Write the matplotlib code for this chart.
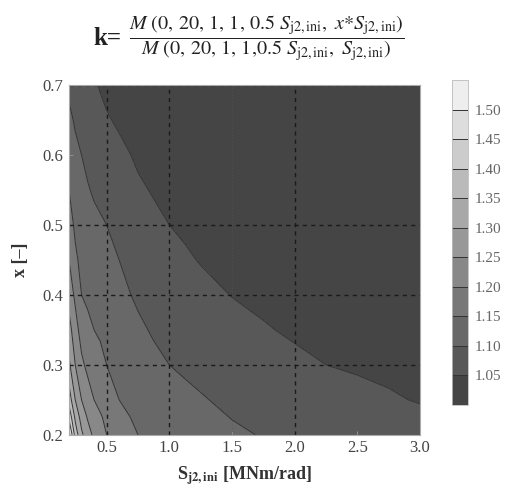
import matplotlib
matplotlib.use('Agg')
import matplotlib.pyplot as plt
import numpy as np

# stiffness S_j2,ini [MNm/rad] (grid columns) and reduction factor x [-] (grid rows)
s_vals = [0.2, 0.25, 0.3, 0.35, 0.4, 0.45, 0.5, 0.6, 0.75, 0.875,
          1.0, 1.125, 1.25, 1.5, 1.75, 2.0, 2.25, 2.5, 2.75, 3.0]
x_vals = [0.2, 0.225, 0.25, 0.3, 0.35, 0.4, 0.45, 0.5, 0.55, 0.6, 0.65, 0.7]

# k, one row per x value
k_x0200 = [1.52, 1.38, 1.31, 1.27, 1.24, 1.22, 1.20, 1.18, 1.15, 1.139,
           1.13, 1.122, 1.115, 1.106, 1.098, 1.092, 1.086, 1.08, 1.075, 1.07]
k_x0225 = [1.44, 1.34, 1.28, 1.245, 1.22, 1.205, 1.19, 1.165, 1.14, 1.13,
           1.1225, 1.116, 1.11, 1.099, 1.09, 1.083, 1.077, 1.071, 1.066, 1.06]
k_x0250 = [1.38, 1.30, 1.25, 1.222, 1.20, 1.187, 1.175, 1.15, 1.136, 1.124,
           1.115, 1.109, 1.103, 1.092, 1.082, 1.075, 1.068, 1.062, 1.055, 1.047]
k_x0300 = [1.31, 1.25, 1.21, 1.188, 1.17, 1.16, 1.15, 1.14, 1.12, 1.109,
           1.10, 1.094, 1.089, 1.077, 1.066, 1.058, 1.05, 1.045, 1.04, 1.035]
k_x0350 = [1.27, 1.22, 1.18, 1.163, 1.15, 1.145, 1.14, 1.125, 1.107, 1.096,
           1.0875, 1.081, 1.075, 1.063, 1.053, 1.045, 1.039, 1.035, 1.031, 1.027]
k_x0400 = [1.23, 1.19, 1.15, 1.14, 1.13, 1.125, 1.12, 1.11, 1.094, 1.083,
           1.075, 1.068, 1.061, 1.049, 1.042, 1.036, 1.031, 1.027, 1.024, 1.021]
k_x0450 = [1.20, 1.16, 1.136, 1.127, 1.12, 1.115, 1.11, 1.10, 1.081, 1.071,
           1.062, 1.055, 1.048, 1.038, 1.033, 1.028, 1.024, 1.021, 1.018, 1.016]
k_x0500 = [1.175, 1.14, 1.12, 1.115, 1.11, 1.105, 1.10, 1.09, 1.07, 1.059,
           1.05, 1.044, 1.038, 1.029, 1.025, 1.022, 1.019, 1.016, 1.014, 1.012]
k_x0550 = [1.15, 1.125, 1.11, 1.103, 1.095, 1.09, 1.085, 1.074, 1.056, 1.047,
           1.039, 1.033, 1.028, 1.022, 1.019, 1.016, 1.014, 1.012, 1.01, 1.009]
k_x0600 = [1.13, 1.11, 1.10, 1.09, 1.08, 1.075, 1.07, 1.06, 1.044, 1.036,
           1.03, 1.025, 1.02, 1.017, 1.014, 1.012, 1.01, 1.008, 1.007, 1.006]
k_x0650 = [1.11, 1.095, 1.085, 1.076, 1.067, 1.06, 1.054, 1.044, 1.031, 1.026,
           1.022, 1.018, 1.015, 1.012, 1.01, 1.008, 1.006, 1.005, 1.005, 1.004]
k_x0700 = [1.09, 1.08, 1.07, 1.062, 1.055, 1.047, 1.04, 1.03, 1.02, 1.017,
           1.015, 1.012, 1.01, 1.008, 1.006, 1.005, 1.004, 1.003, 1.0025, 1.002]

levels = [1.00, 1.05, 1.10, 1.15, 1.20, 1.25, 1.30, 1.35, 1.40, 1.45, 1.50, 1.55]
cbar_ticks = [1.05, 1.10, 1.15, 1.20, 1.25, 1.30, 1.35, 1.40, 1.45, 1.50]
band_colors = ['#454545', '#585858', '#686868', '#787878', '#888888', '#989898',
               '#a8a8a8', '#bababa', '#cccccc', '#dddddd', '#eeeeee']

k = np.array([k_x0200, k_x0225, k_x0250, k_x0300, k_x0350, k_x0400,
              k_x0450, k_x0500, k_x0550, k_x0600, k_x0650, k_x0700])
S, X = np.meshgrid(s_vals, x_vals)

plt.rcParams['font.family'] = 'Liberation Serif'
plt.rcParams['mathtext.fontset'] = 'stix'

fig = plt.figure(figsize=(5.11, 4.88), dpi=100)
ax = fig.add_axes([0.135, 0.109, 0.687, 0.717])

cf = ax.contourf(S, X, k, levels=levels, colors=band_colors)
cl = ax.contour(S, X, k, levels=levels[1:-1], colors='#333333', linewidths=0.7)

# dashed grid
for s in [0.5, 1.0, 2.0]:
    ax.axvline(s, color='#1a1a1a', lw=1.0, ls=(0, (3, 3)))
ax.axvline(1.5, color='#555555', lw=0.6, ls=(0, (1, 3)))
for xv in [0.3, 0.4, 0.5, 0.7]:
    ax.axhline(xv, color='#1a1a1a', lw=1.0, ls=(0, (3, 3)))

ax.set_xlim(0.2, 3.0)
ax.set_ylim(0.2, 0.7)
ax.set_xticks([0.5, 1.0, 1.5, 2.0, 2.5, 3.0])
ax.set_xticklabels(['0.5', '1.0', '1.5', '2.0', '2.5', '3.0'])
ax.set_yticks([0.2, 0.3, 0.4, 0.5, 0.6, 0.7])
ax.set_yticklabels(['0.2', '0.3', '0.4', '0.5', '0.6', '0.7'])
ax.tick_params(direction='in', length=3, width=0.6, color='#999999',
               labelsize=12, labelcolor='#444444', pad=4)
for sp in ax.spines.values():
    sp.set_color('#aaaaaa')
    sp.set_linewidth(0.8)

ax.set_xlabel(r'S$_{\mathbf{j2,ini}}$ [MNm/rad]', fontsize=13, fontweight='bold',
              color='#333333', labelpad=6)
ax.set_ylabel('x [–]', fontsize=13, fontweight='bold', color='#333333', labelpad=10)

# colour bar
cax = fig.add_axes([0.885, 0.17, 0.031, 0.666])
cbar = fig.colorbar(cf, cax=cax, ticks=cbar_ticks)
cbar.add_lines(cl)
cbar.ax.set_yticklabels(['%.2f' % t for t in cbar_ticks])
cbar.ax.tick_params(length=0, labelsize=11, labelcolor='#666666', pad=5)
cbar.outline.set_edgecolor('#bbbbbb')
cbar.outline.set_linewidth(0.6)

# title: k = fraction
fig.text(0.238, 0.922, 'k=', ha='right', va='center', fontsize=18,
         fontweight='bold', color='#222222')
fig.text(0.522, 0.922,
         r'$\dfrac{M\ (0,\,20,\,1,\,1,\,0.5\ S_{\mathrm{j2,ini}},\ x{*}S_{\mathrm{j2,ini}})}'
         r'{M\ (0,\,20,\,1,\,1{,}0.5\ S_{\mathrm{j2,ini}},\ S_{\mathrm{j2,ini}})}$',
         ha='center', va='center', fontsize=14.5, color='#222222')

fig.savefig('out.png', dpi=100)
